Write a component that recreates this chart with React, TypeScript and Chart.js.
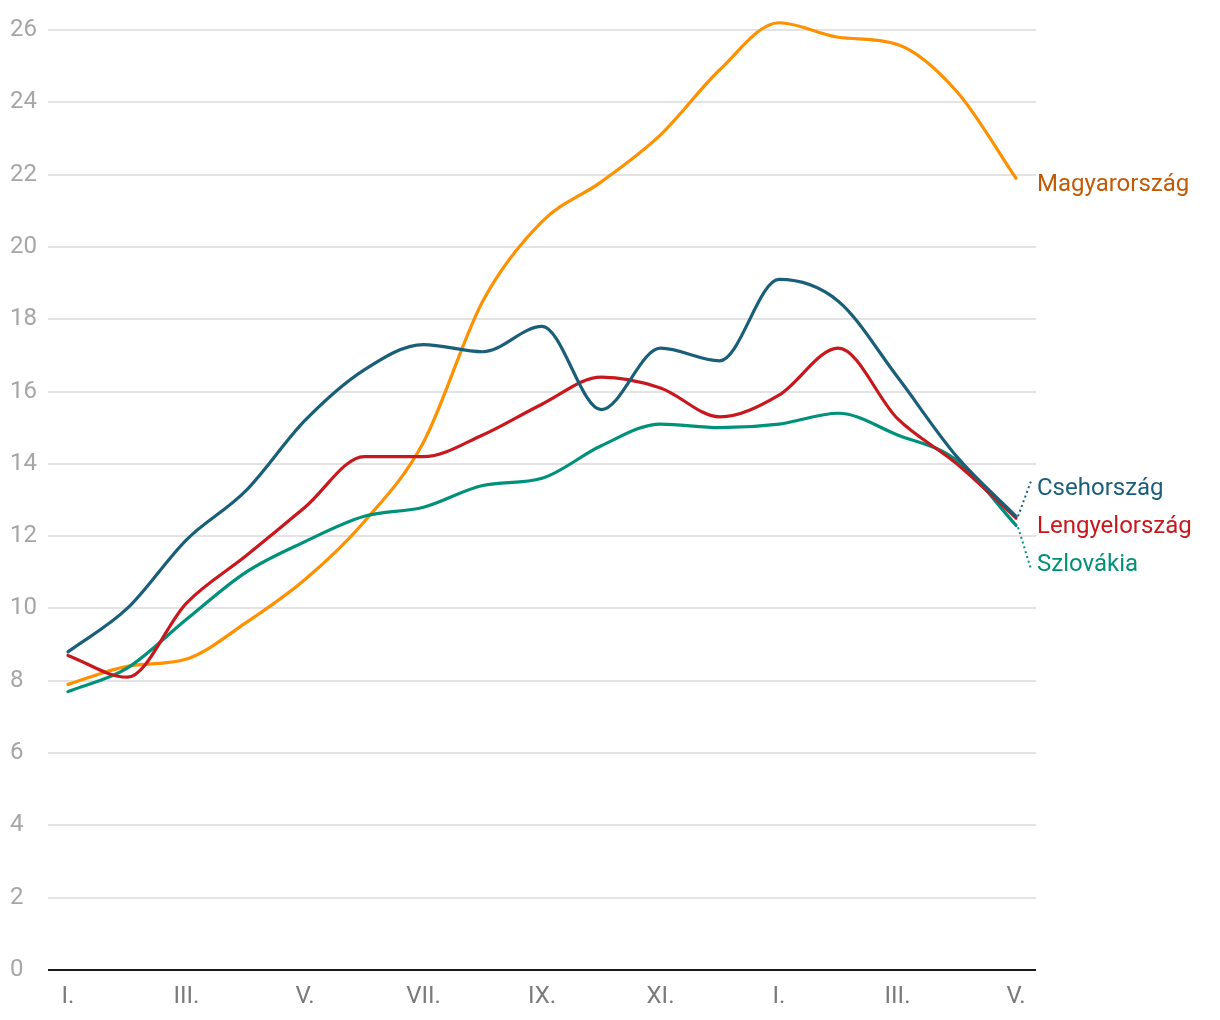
import React, { useEffect, useRef } from "react";
import { Chart, registerables } from "chart.js";

Chart.register(...registerables);

const monthLabels = ["I.", "II.", "III.", "IV.", "V.", "VI.", "VII.", "VIII.", "IX.", "X.", "XI.", "XII.", "I.", "II.", "III.", "IV.", "V."];

const magyarorszag = [7.9, 8.4, 8.6, 9.6, 10.8, 12.4, 14.6, 18.5, 20.7, 21.8, 23.1, 24.9, 26.2, 25.8, 25.6, 24.3, 21.9];
const csehorszag = [8.8, 10.0, 11.9, 13.25, 15.2, 16.6, 17.3, 17.1, 17.8, 15.5, 17.2, 16.85, 19.1, 18.5, 16.4, 14.2, 12.55];
const lengyelorszag = [8.7, 8.1, 10.15, 11.45, 12.8, 14.2, 14.2, 14.8, 15.65, 16.4, 16.1, 15.3, 15.9, 17.2, 15.25, 14.0, 12.5];
const szlovakia = [7.7, 8.35, 9.7, 11.0, 11.85, 12.55, 12.8, 13.4, 13.6, 14.5, 15.1, 15.0, 15.1, 15.4, 14.8, 14.1, 12.3];

const yTicks = [0, 2, 4, 6, 8, 10, 12, 14, 16, 18, 20, 22, 24, 26];
const xTickIndices = [0, 2, 4, 6, 8, 10, 12, 14, 16];

const COLORS = {
  magyar: "#ff9000",
  magyarText: "#c25a05",
  cseh: "#1a5f7a",
  lengyel: "#c8181e",
  szlovak: "#00917a",
};

const toPoints = (arr: number[]) => arr.map((v, i) => ({ x: i, y: v }));

const endLabels = {
  id: "endLabels",
  afterDatasetsDraw(chart: any) {
    const { ctx, scales } = chart;
    const xs = scales.x;
    const ys = scales.y;
    const last = monthLabels.length - 1;
    const xEnd = xs.getPixelForValue(last);
    const tx = chart.chartArea.right + 1;
    ctx.save();
    ctx.font = "24px Roboto";
    ctx.textAlign = "left";
    ctx.textBaseline = "alphabetic";

    const yMag = ys.getPixelForValue(magyarorszag[last]);
    ctx.fillStyle = COLORS.magyarText;
    ctx.fillText("Magyarország", tx, yMag + 13);

    const yLen = ys.getPixelForValue(lengyelorszag[last]);
    const lenBase = yLen + 15;
    const csBase = lenBase - 38;
    const szBase = lenBase + 38;
    ctx.fillStyle = COLORS.cseh;
    ctx.fillText("Csehország", tx, csBase);
    ctx.fillStyle = COLORS.lengyel;
    ctx.fillText("Lengyelország", tx, lenBase);
    ctx.fillStyle = COLORS.szlovak;
    ctx.fillText("Szlovákia", tx, szBase);

    // dotted connectors
    ctx.setLineDash([2, 3]);
    ctx.lineWidth = 2;
    const yCs = ys.getPixelForValue(csehorszag[last]);
    ctx.strokeStyle = COLORS.cseh;
    ctx.beginPath();
    ctx.moveTo(xEnd + 2, yCs);
    ctx.lineTo(tx - 6, csBase - 14);
    ctx.stroke();
    const ySz = ys.getPixelForValue(szlovakia[last]);
    ctx.strokeStyle = COLORS.szlovak;
    ctx.beginPath();
    ctx.moveTo(xEnd + 2, ySz + 2);
    ctx.lineTo(tx - 6, szBase - 2);
    ctx.stroke();
    ctx.restore();
  },
};

export default function App() {
  const ref = useRef<HTMLCanvasElement | null>(null);
  useEffect(() => {
    document.body.style.margin = "0";
    if (!ref.current) return;
    Chart.defaults.font.family = "Roboto";
    const ds = (label: string, data: number[], color: string) => ({
      label,
      data: toPoints(data),
      borderColor: color,
      backgroundColor: color,
      borderWidth: 3.2,
      pointRadius: 0,
      fill: false,
      clip: false,
      cubicInterpolationMode: "monotone" as const,
      borderCapStyle: "round" as const,
    });
    const chart = new Chart(ref.current, {
      type: "line",
      data: {
        datasets: [
          ds("Csehország", csehorszag, COLORS.cseh),
          ds("Lengyelország", lengyelorszag, COLORS.lengyel),
          ds("Szlovákia", szlovakia, COLORS.szlovak),
          ds("Magyarország", magyarorszag, COLORS.magyar),
        ],
      },
      options: {
        animation: false,
        responsive: false,
        maintainAspectRatio: false,
        layout: { padding: { left: 10, right: 184, top: 30, bottom: 0 } },
        plugins: { legend: { display: false }, tooltip: { enabled: false } },
        scales: {
          x: {
            type: "linear",
            min: -0.337,
            max: 16.337,
            afterBuildTicks: (axis: any) => {
              axis.ticks = xTickIndices.map((v) => ({ value: v }));
            },
            afterFit: (axis: any) => {
              axis.height = 50;
            },
            grid: { display: false, drawTicks: false },
            border: { display: false },
            ticks: {
              autoSkip: false,
              maxRotation: 0,
              padding: 13,
              color: "#7a7a7a",
              font: { size: 24, family: "Roboto" },
              callback: (v: any) => monthLabels[v] ?? "",
            },
          },
          y: {
            type: "linear",
            min: 0,
            max: 26,
            afterBuildTicks: (axis: any) => {
              axis.ticks = yTicks.map((v) => ({ value: v }));
            },
            afterFit: (axis: any) => {
              axis.width = 38;
            },
            grid: {
              drawTicks: false,
              color: (c: any) => (c.tick && c.tick.value === 0 ? "#1a1a1a" : "#e3e3e3"),
              lineWidth: 2,
            },
            border: { display: false },
            ticks: {
              crossAlign: "far",
              padding: 10,
              color: "#a6a6a6",
              font: { size: 24, family: "Roboto" },
            },
          },
        },
      },
      plugins: [endLabels],
    } as any);
    return () => chart.destroy();
  }, []);
  return (
    <div style={{ position: "absolute", left: 0, top: 0, width: 1220, height: 1020 }}>
      <canvas ref={ref} width={1220} height={1020} style={{ width: 1220, height: 1020 }} />
    </div>
  );
}
